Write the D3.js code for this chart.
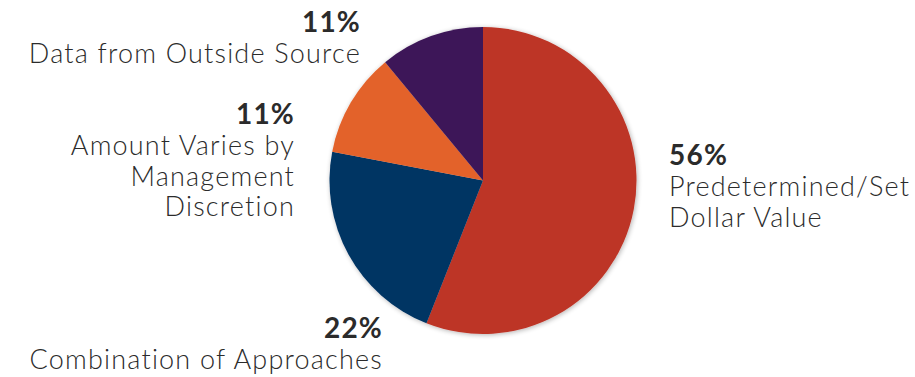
<!DOCTYPE html>
<html>
<head>
<meta charset="utf-8">
<script src="https://cdn.jsdelivr.net/npm/d3@7"></script>
<style>
  html, body { margin: 0; padding: 0; background: #fff; }
  svg { display: block; }
  .pct { font-family: Lato, "Noto Sans", sans-serif; font-weight: 700; font-size: 28px; letter-spacing: 1.2px; fill: #2b2b2b; }
  .lbl { font-family: Lato, "Noto Sans", sans-serif; font-weight: 300; font-size: 27px; letter-spacing: 1.2px; fill: #2b2b2b; }
</style>
</head>
<body>
<svg id="chart" width="915" height="377"></svg>
<script>
// Share of respondents by how the amount is determined
const categories = [
  "Predetermined/Set Dollar Value",
  "Combination of Approaches",
  "Amount Varies by Management Discretion",
  "Data from Outside Source"
];
const values = [56, 22, 11, 11];
const colors = ["#bd3426", "#003463", "#e3622a", "#3d1658"];

// Label text broken into lines, and where each label block sits
const labelLines = [
  ["Predetermined/Set", "Dollar Value"],
  ["Combination of Approaches"],
  ["Amount Varies by", "Management", "Discretion"],
  ["Data from Outside Source"]
];
const labelLayout = [
  { x: 669, y: 165, anchor: "start" },
  { x: 383, y: 338, anchor: "end" },
  { x: 295, y: 124, anchor: "end" },
  { x: 361, y: 32, anchor: "end" }
];

const svg = d3.select("#chart");
const cx = 483, cy = 180.5, radius = 153.5;

const defs = svg.append("defs");
const shadow = defs.append("filter").attr("id", "soft-shadow")
  .attr("x", "-10%").attr("y", "-10%").attr("width", "120%").attr("height", "120%");
shadow.append("feGaussianBlur").attr("in", "SourceAlpha").attr("stdDeviation", 2.5).attr("result", "blur");
shadow.append("feOffset").attr("in", "blur").attr("dx", 1).attr("dy", 1).attr("result", "off");
shadow.append("feComponentTransfer").attr("in", "off").attr("result", "faded")
  .append("feFuncA").attr("type", "linear").attr("slope", 0.3);
const merge = shadow.append("feMerge");
merge.append("feMergeNode").attr("in", "faded");
merge.append("feMergeNode").attr("in", "SourceGraphic");

const pie = d3.pie().sort(null).value(d => d);
const arc = d3.arc().innerRadius(0).outerRadius(radius);

const g = svg.append("g")
  .attr("transform", `translate(${cx},${cy})`)
  .attr("filter", "url(#soft-shadow)");

g.selectAll("path")
  .data(pie(values))
  .join("path")
  .attr("d", arc)
  .attr("fill", (d, i) => colors[i]);

// Labels: bold percentage over the category name
const lineH = 30.5;
values.forEach((v, i) => {
  const L = labelLayout[i];
  const t = svg.append("text").attr("text-anchor", L.anchor);
  t.append("tspan").attr("class", "pct").attr("x", L.x).attr("y", L.y).text(v + "%");
  labelLines[i].forEach((line, j) => {
    t.append("tspan").attr("class", "lbl")
      .attr("x", L.x).attr("y", L.y + 31 + j * lineH)
      .text(line);
  });
});
</script>
</body>
</html>
